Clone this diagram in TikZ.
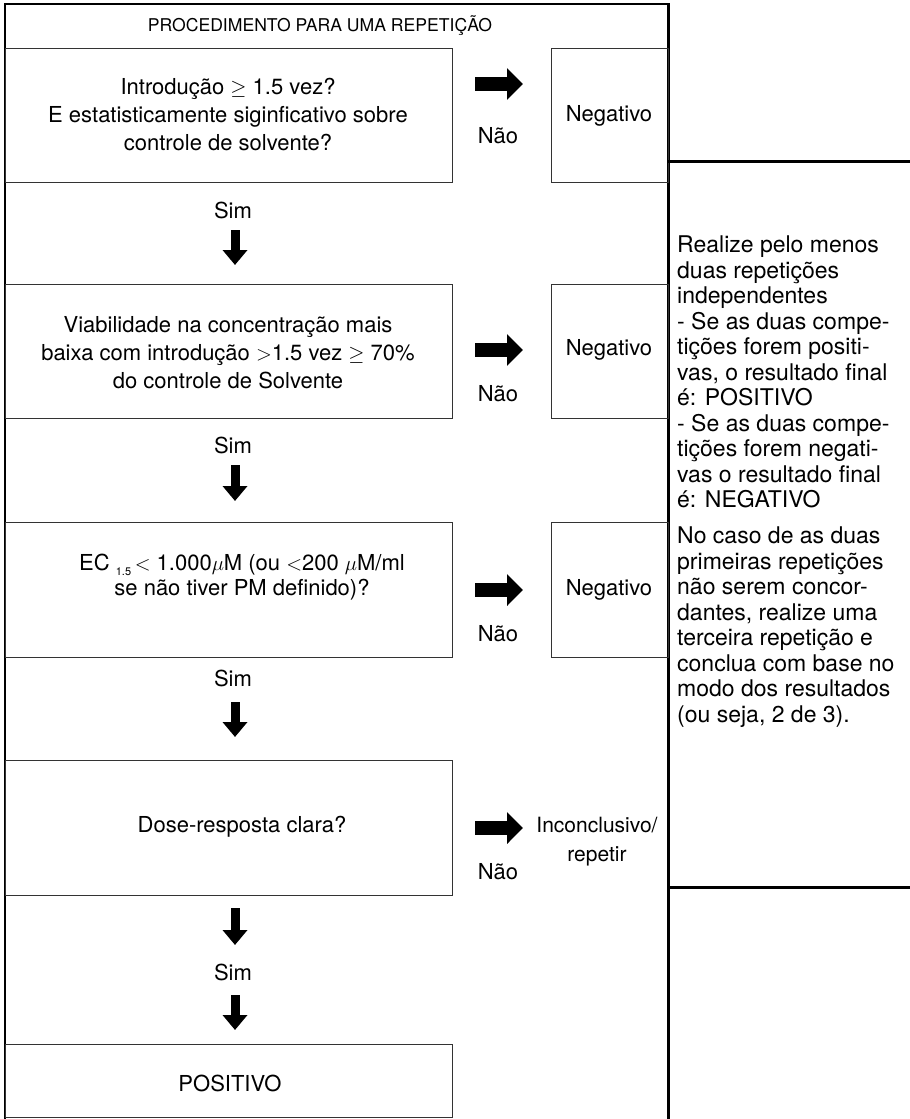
\documentclass[tikz,border=0pt]{standalone}
\usepackage{fontspec}
\setmainfont{TeX Gyre Heros}
\usetikzlibrary{arrows.meta}
\begin{document}
\begin{tikzpicture}[x=1pt,y=-1pt,
  stepbox/.style={draw=black!80, line width=1.1pt, inner sep=0pt, anchor=north west},
  lbl/.style={font=\fontsize{22}{28}\selectfont, align=center, inner sep=0pt},
  rarr/.style={line width=14pt, -{Triangle[width=31pt,length=16pt]}},
  darr/.style={line width=9pt, -{Triangle[width=24pt,length=15pt]}},
  heavy/.style={line width=3pt},
]
\useasboundingbox (0,0) rectangle (910,1119);

% outer frame of the procedure column
\draw[line width=1.5pt] (5,1119) -- (5,4) -- (668,4);
\draw[heavy] (668,3) -- (668,1119);

\node[font=\fontsize{17.6}{20}\selectfont, inner sep=0pt] (title) at (320,26) {PROCEDIMENTO PARA UMA REPETIÇÃO};

% question boxes
\node[stepbox, minimum width=447pt, minimum height=134pt] (b1) at (5,48) {};
\node[stepbox, minimum width=447pt, minimum height=134pt] (b2) at (5,284) {};
\node[stepbox, minimum width=447pt, minimum height=135pt] (b3) at (5,522) {};
\node[stepbox, minimum width=447pt, minimum height=135pt] (b4) at (5,760) {};
\node[stepbox, minimum width=447pt, minimum height=73pt] (b5) at (5,1044) {};

% result boxes
\node[stepbox, minimum width=117pt, minimum height=134pt] (n1) at (551,48) {};
\node[stepbox, minimum width=117pt, minimum height=134pt] (n2) at (551,284) {};
\node[stepbox, minimum width=117pt, minimum height=135pt] (n3) at (551,522) {};

% texts of the boxes
\node[lbl] (t1) at (228,115) {Introdução $\geq$ 1.5 vez?\\E estatisticamente siginficativo sobre\\controle de solvente?};
\node[lbl] (t2) at (228,353) {Viabilidade na concentração mais\\baixa com introdução $>$1.5 vez $\geq$ 70\%\\do controle de Solvente};
\node[lbl, font=\fontsize{22}{25}\selectfont] (t3) at (242,577) {EC \raisebox{-5pt}{\fontsize{11}{11}\selectfont 1.5}\,$<$ 1.000$\mu$M (ou $<$200 $\mu$M/ml\\se não tiver PM definido)?};
\node[lbl] (t4) at (242,827) {Dose-resposta clara?};
\node[lbl] (t5) at (230,1083) {POSITIVO};

\node[lbl] (m1) at (609,116) {Negativo};
\node[lbl] (m2) at (609,350) {Negativo};
\node[lbl] (m3) at (609,590) {Negativo};
\node[lbl, font=\fontsize{21}{29}\selectfont] (m4) at (597,842) {Inconclusivo/\\repetir};

% yes / no labels
\node[lbl] (s1) at (233,210) {Sim};
\node[lbl] (s2) at (233,445) {Sim};
\node[lbl] (s3) at (233,678) {Sim};
\node[lbl] (s4) at (233,972) {Sim};
\node[lbl] (no1) at (498,136) {Não};
\node[lbl] (no2) at (498,394) {Não};
\node[lbl] (no3) at (498,634) {Não};
\node[lbl] (no4) at (498,872) {Não};

% arrow end points
\coordinate (r1s) at (475,84);  \coordinate (r1e) at (523,84);
\coordinate (r2s) at (475,350); \coordinate (r2e) at (523,350);
\coordinate (r3s) at (475,590); \coordinate (r3e) at (523,590);
\coordinate (r4s) at (475,828); \coordinate (r4e) at (523,828);
\coordinate (d1s) at (235,230); \coordinate (d1e) at (235,265);
\coordinate (d2s) at (235,465); \coordinate (d2e) at (235,501);
\coordinate (d3s) at (235,702); \coordinate (d3e) at (235,737);
\coordinate (d4s) at (235,908); \coordinate (d4e) at (235,945);
\coordinate (d5s) at (235,995); \coordinate (d5e) at (235,1030);

\foreach \a in {r1,r2,r3,r4} \draw[rarr] (\a s) -- (\a e);
\foreach \a in {d1,d2,d3,d4,d5} \draw[darr] (\a s) -- (\a e);

% side panel with the rules for repetitions
\draw[heavy] (668,161) -- (910,161);
\draw[heavy] (668,887) -- (910,887);
\node[anchor=north west, inner sep=0pt, align=left, font=\fontsize{23}{25.5}\selectfont] (rules) at (677,236) {Realize pelo menos\\duas repetições\\independentes\\- Se as duas compe-\\tições forem positi-\\vas, o resultado final\\é: POSITIVO\\- Se as duas compe-\\tições forem negati-\\vas o resultado final\\é: NEGATIVO\\[10.5pt]No caso de as duas\\primeiras repetições\\não serem concor-\\dantes, realize uma\\terceira repetição e\\conclua com base no\\modo dos resultados\\(ou seja, 2 de 3).};
\end{tikzpicture}
\end{document}
